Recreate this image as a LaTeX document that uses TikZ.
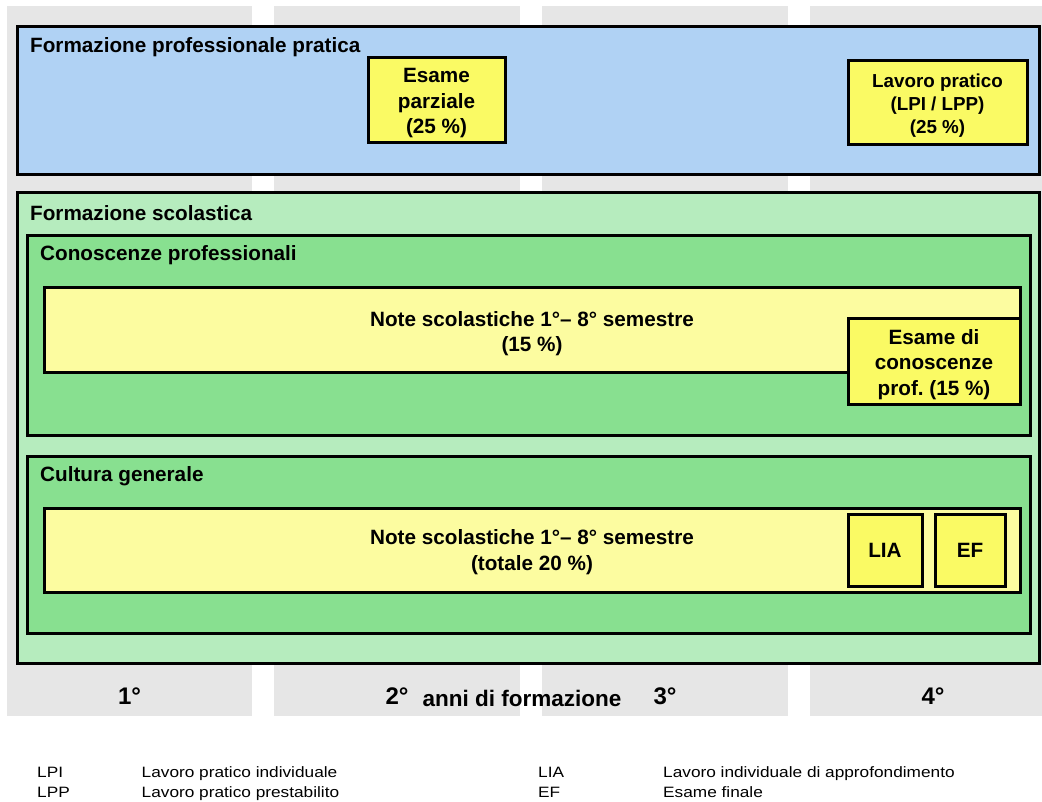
\documentclass[tikz,border=0pt]{standalone}
\usepackage{fontspec}
\setmainfont{Liberation Sans}
\usepackage{graphicx}
\frenchspacing
\definecolor{colbg}{RGB}{230,230,230}
\definecolor{bluefill}{RGB}{176,210,244}
\definecolor{greenout}{RGB}{182,236,190}
\definecolor{greenin}{RGB}{136,224,144}
\definecolor{yellowlight}{RGB}{252,252,160}
\definecolor{yellowbright}{RGB}{250,250,100}
\begin{document}
\begin{tikzpicture}[x=1pt,y=-1pt,
  colbox/.style={fill=colbg, draw=none, anchor=north west, inner sep=0pt, outer sep=0pt},
  frame/.style={draw=black, line width=3pt, anchor=north west, inner sep=0pt, outer sep=0pt, align=center,
    font=\fontsize{20.7}{25.5}\selectfont\bfseries},
  bluebox/.style={frame, fill=bluefill},
  greenoutbox/.style={frame, fill=greenout},
  greeninbox/.style={frame, fill=greenin},
  lightbox/.style={frame, fill=yellowlight},
  brightbox/.style={frame, fill=yellowbright},
  boxtext/.style={inner sep=0pt, align=center, font=\fontsize{20.7}{25.5}\selectfont\bfseries},
  titletext/.style={anchor=base west, inner sep=0pt, font=\fontsize{20.7}{25}\selectfont\bfseries},
  yeartext/.style={anchor=base, inner sep=0pt, font=\fontsize{24}{28}\selectfont\bfseries},
  annitext/.style={anchor=base, inner sep=0pt, font=\fontsize{22.5}{26}\selectfont\bfseries},
  legendtext/.style={anchor=base west, inner sep=0pt, font=\fontsize{15}{17}\selectfont}
]
\useasboundingbox (0,0) rectangle (1042,802);
\fill[white] (0,0) rectangle (1042,802);

% year columns
\node[colbox, minimum width=245, minimum height=710] (col1) at (7,6) {};
\node[colbox, minimum width=246, minimum height=710] (col2) at (274,6) {};
\node[colbox, minimum width=246, minimum height=710] (col3) at (542,6) {};
\node[colbox, minimum width=232, minimum height=710] (col4) at (810,6) {};

% practical training
\node[bluebox, minimum width=1022, minimum height=148] (fpp) at (17,27) {};
\node[titletext] (fpptitle) at (30,53) {Formazione professionale pratica};
\node[brightbox, minimum width=137, minimum height=85] (esparz) at (368,58) {};
\node[boxtext] (esparztext) at ([yshift=-3pt]esparz.center) {Esame\\parziale\\(25 \%)};
\node[brightbox, minimum width=179, minimum height=84] (lavpr) at (848,61) {};
\node[boxtext, font=\fontsize{18.8}{23}\selectfont\bfseries] (lavprtext) at ([yshift=-2.5pt]lavpr.center) {Lavoro pratico\\(LPI / LPP)\\(25 \%)};

% school training
\node[greenoutbox, minimum width=1022, minimum height=470] (fs) at (17,193) {};
\node[titletext] (fstitle) at (30,221) {Formazione scolastica};

\node[greeninbox, minimum width=1003, minimum height=199] (cp) at (27,236) {};
\node[titletext] (cptitle) at (40,261) {Conoscenze professionali};
\node[lightbox, minimum width=976, minimum height=85] (note1) at (44,288) {};
\node[boxtext] (note1text) at ([yshift=-3pt]note1.center) {Note scolastiche 1°– 8° semestre\\(15 \%)};
\node[brightbox, minimum width=172, minimum height=85] (escp) at (848,319) {};
\node[boxtext] (escptext) at ([yshift=-3pt]escp.center) {Esame di\\conoscenze\\prof. (15 \%)};

\node[greeninbox, minimum width=1003, minimum height=177] (cg) at (27,456) {};
\node[titletext] (cgtitle) at (40,481) {Cultura generale};
\node[lightbox, minimum width=976, minimum height=84] (note2) at (44,508) {};
\node[boxtext] (note2text) at ([yshift=-2pt]note2.center) {Note scolastiche 1°– 8° semestre\\(totale 20 \%)};
\node[brightbox, minimum width=74, minimum height=72] (lia) at (848,514) {LIA};
\node[brightbox, minimum width=70, minimum height=72] (ef) at (935,514) {EF};

% years
\node[yeartext] (y1) at (129.5,704.5) {1°};
\node[yeartext] (y2) at (397,704.5) {2°};
\node[annitext] (anni) at (522,706) {anni di formazione};
\node[yeartext] (y3) at (665,704.5) {3°};
\node[yeartext] (y4) at (933,704.5) {4°};

% legend
\node[legendtext] (lpi) at (37,777.5) {\scalebox{1.15}[1]{LPI}};
\node[legendtext] (lpidesc) at (141.5,777.5) {\scalebox{1.15}[1]{Lavoro pratico individuale}};
\node[legendtext] (lpp) at (37,797) {\scalebox{1.15}[1]{LPP}};
\node[legendtext] (lppdesc) at (141.5,797) {\scalebox{1.15}[1]{Lavoro pratico prestabilito}};
\node[legendtext] (lialeg) at (538,777.5) {\scalebox{1.15}[1]{LIA}};
\node[legendtext] (liadesc) at (663,777.5) {\scalebox{1.15}[1]{Lavoro individuale di approfondimento}};
\node[legendtext] (efleg) at (538,797) {\scalebox{1.15}[1]{EF}};
\node[legendtext] (efdesc) at (663,797) {\scalebox{1.15}[1]{Esame finale}};
\end{tikzpicture}
\end{document}
